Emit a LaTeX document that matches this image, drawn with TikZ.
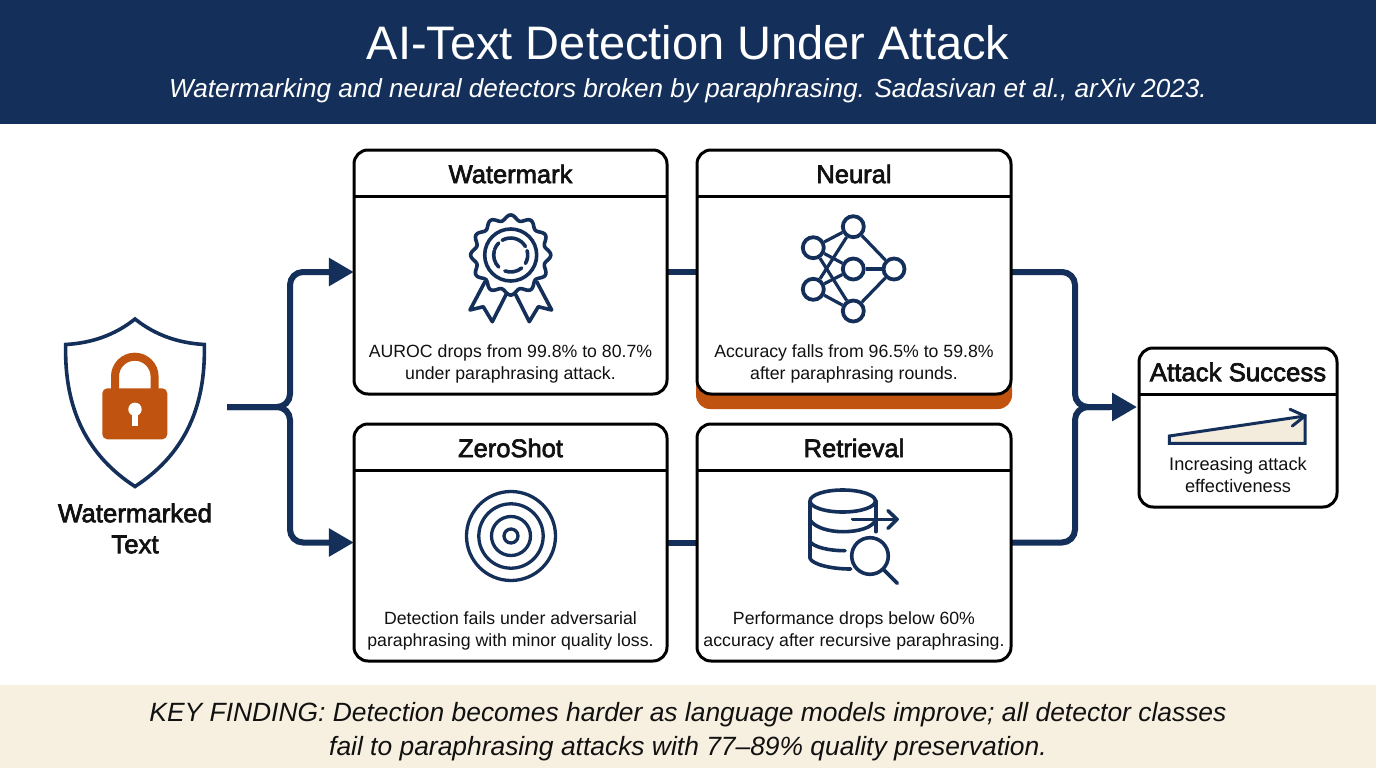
\documentclass[tikz,border=0pt]{standalone}
\usepackage{fontspec}
\setmainfont{Liberation Sans}
\newfontfamily\medfont[FakeBold=2.6]{Liberation Sans}
\usetikzlibrary{arrows.meta}
\definecolor{navy}{HTML}{14305A}
\definecolor{rust}{HTML}{C0530F}
\definecolor{cream}{HTML}{F7F0E0}
\definecolor{wedge}{HTML}{F3EBDC}
\definecolor{ink}{HTML}{111111}
\tikzset{
  x=1pt,y=-1pt,
  cardbox/.style={draw=black,line width=3pt,fill=white,rounded corners=14pt,inner sep=0pt,rectangle},
  cardrule/.style={draw=black,line width=3pt},
  cardtitle/.style={font=\medfont\fontsize{25.5}{30}\selectfont,text=ink,inner sep=0pt},
  carddesc/.style={font=\fontsize{17.7}{22}\selectfont,text=ink,align=center,inner sep=0pt},
  anchorbox/.style={rectangle,inner sep=0pt},
  flow/.style={draw=navy,line width=6pt,rounded corners=13pt},
  flowtip/.style={flow,-{Triangle[length=25pt,width=27pt]}},
  icon/.style={draw=navy,line width=3.6pt,line cap=round,line join=round},
  ring/.style={draw=navy,line width=3.3pt},
  netnode/.style={circle,draw=navy,line width=3.8pt,fill=white,minimum size=21pt,inner sep=0pt},
}
\begin{document}
\begin{tikzpicture}
\useasboundingbox (0,0) rectangle (1376,768);
\fill[white] (0,0) rectangle (1376,768);
% bands
\fill[navy] (0,0) rectangle (1376,124);
\fill[cream] (0,685) rectangle (1376,768);
\node[text=white,inner sep=0pt,font=\fontsize{47}{56}\selectfont] (title) at (688,43) {AI-Text Detection Under Attack};
\node[text=white,inner sep=0pt,font=\itshape\fontsize{26.1}{32}\selectfont] (subtitle) at (688,91) {Watermarking and neural detectors broken by paraphrasing. Sadasivan et al., arXiv 2023.};
\node[text=ink,inner sep=0pt,align=center,font=\itshape\fontsize{26.4}{34}\selectfont] (finding) at (688,732) {KEY FINDING: Detection becomes harder as language models improve; all detector classes\\fail to paraphrasing attacks with 77--89\% quality preservation.};
% orange accent under Neural
\fill[rust] (696,370) rectangle (1012,395);
\fill[rust,rounded corners=14pt] (696,375) rectangle (1012,409);
% anchors for connectors
\coordinate (src) at (227,407);
\coordinate (hub) at (1137,407);
\node[anchorbox,minimum width=313pt,minimum height=244pt] (wm) at (510.5,272) {};
\node[anchorbox,minimum width=314pt,minimum height=244pt] (nn) at (854,272) {};
\node[anchorbox,minimum width=313pt,minimum height=237pt] (zs) at (510.5,542.5) {};
\node[anchorbox,minimum width=314pt,minimum height=237pt] (rt) at (854,542.5) {};
% connectors
\draw[flow] (src) -- (290,407) -- (290,272) -- (330,272);
\draw[flow] (src) -- (290,407) -- (290,542.5) -- (330,542.5);
\draw[flowtip] (330,272) -- (wm.west);
\draw[flowtip] (330,542.5) -- (zs.west);
\draw[flow,rounded corners=0pt] (wm.east) -- (nn.west);
\draw[flow,rounded corners=0pt] (zs.east) -- (rt.west);
\draw[flow] (nn.east) -- (1075,272) -- (1075,407) -- (1110,407);
\draw[flow] (rt.east) -- (1075,542.5) -- (1075,407) -- (1110,407);
\draw[flowtip] (1110,407) -- (hub);
% cards
\foreach \lx/\rx/\ty/\by/\ry in {354/667/150/394/196, 697/1011/150/394/196, 354/667/424/661/470, 697/1011/424/661/470, 1139/1337/348/507/394}{
  \draw[cardbox] (\lx,\ty) rectangle (\rx,\by);
  \draw[cardrule] (\lx,\ry) -- (\rx,\ry);
}
% card text
\node[cardtitle] (wmt) at (510.5,174) {Watermark};
\node[cardtitle] (nnt) at (854,174) {Neural};
\node[cardtitle] (zst) at (510.5,448) {ZeroShot};
\node[cardtitle] (rtt) at (854,448) {Retrieval};
\node[cardtitle,font=\medfont\fontsize{25.8}{32}\selectfont] (ast) at (1238,372) {Attack Success};
\node[carddesc] (wmd) at (510.5,364) {AUROC drops from 99.8\% to 80.7\%\\under paraphrasing attack.};
\node[carddesc] (nnd) at (854,364) {Accuracy falls from 96.5\% to 59.8\%\\after paraphrasing rounds.};
\node[carddesc] (zsd) at (510.5,631) {Detection fails under adversarial\\paraphrasing with minor quality loss.};
\node[carddesc] (rtd) at (854,631) {Performance drops below 60\%\\accuracy after recursive paraphrasing.};
\node[carddesc,font=\fontsize{18.2}{22}\selectfont] (asd) at (1238,475) {Increasing attack\\effectiveness};
\node[cardtitle,align=center,font=\medfont\fontsize{25.8}{31}\selectfont] (srclabel) at (135,528.5) {Watermarked\\Text};
% shield
\draw[navy,line width=3.6pt,line join=miter,fill=white] (135,319) .. controls (115,335) and (92,343) .. (65.7,344.5) .. controls (64,410) and (88,456) .. (135,486.5) .. controls (182,456) and (206,410) .. (204.3,344.5) .. controls (178,343) and (155,335) .. (135,319) -- cycle;
\draw[rust,line width=8pt] (115,392) -- (115,376.5) arc[start angle=180,end angle=0,radius=19.8pt] -- (154.6,392);
\fill[rust,rounded corners=5pt] (102.3,388.3) rectangle (167.3,439.3);
\fill[white] (135,409.3) circle[radius=6.7pt];
\fill[white] (131.7,410) rectangle (138.3,425.7);
% rosette
\draw[icon] (485,281.7) -- (470,310) -- (483.3,306.7) -- (492.3,321.7) -- (506.7,293.3);
\draw[icon] (536.7,281.7) -- (551.7,310) -- (538.3,306.7) -- (529.3,321.7) -- (515,293.3);
\draw[icon,fill=white,smooth,samples=144,domain=0:360] plot ({510.7+(37.5+2.6*cos(12*\x))*sin(\x)},{255-(37.5+2.6*cos(12*\x))*cos(\x)}) -- cycle;
\draw[icon] (510.7,255) circle[radius=26pt];
\draw[icon] (510.7,255) ++(120:17pt) arc[start angle=120,end angle=30,radius=17pt];
\draw[icon] (510.7,255) ++(15:17pt) arc[start angle=15,end angle=-30,radius=17pt];
\draw[icon] (510.7,255) ++(-50:17pt) arc[start angle=-50,end angle=-110,radius=17pt];
\draw[icon] (510.7,255) ++(-135:17pt) arc[start angle=-135,end angle=-195,radius=17pt];
\draw[icon] (510.7,255) ++(-200:17pt) arc[start angle=-200,end angle=-225,radius=17pt];
% neural net
\node[netnode] (i1) at (813.3,247.7) {};
\node[netnode] (i2) at (813.3,289.3) {};
\node[netnode] (h1) at (853.3,226.7) {};
\node[netnode] (h2) at (853.3,269) {};
\node[netnode] (h3) at (853.3,311) {};
\node[netnode] (o1) at (894,269) {};
\foreach \a in {i1,i2}\foreach \b in {h1,h2,h3}{\draw[navy,line width=3.2pt] (\a) -- (\b);}
\foreach \b in {h1,h2,h3}{\draw[navy,line width=3.2pt] (\b) -- (o1);}
% target
\draw[ring] (511,536) circle[radius=44.5pt];
\draw[ring] (511,536) circle[radius=32.2pt];
\draw[ring] (511,536) circle[radius=19.5pt];
\draw[ring] (511,536) circle[radius=7pt];
% database
\draw[icon] (842.7,501) ellipse[x radius=32.7pt,y radius=11pt];
\draw[icon] (875.7,501) -- (875.7,531.7);
\draw[icon] (810,501) -- (810,558.3) .. controls (812,564) and (830,569) .. (850.7,569);
\draw[icon] (810,520) .. controls (815,528) and (830,531.7) .. (843,531.7) .. controls (858,531.7) and (872,528) .. (875.7,520);
\draw[icon] (810,541.7) .. controls (814,547) and (828,550.7) .. (845,550.7);
\draw[icon] (852.7,519.3) -- (897,519.3);
\draw[icon] (888,510.7) -- (897,519.3) -- (888,528.3);
\draw[icon,fill=white] (870,556) circle[radius=18.3pt];
\draw[icon] (883.3,569.3) -- (897.3,583.3);
% attack ramp
\draw[navy,line width=3pt,fill=wedge,line join=miter] (1169.3,436) -- (1305,416) -- (1305,443.3) -- (1169.3,443.3) -- cycle;
\draw[navy,line width=3pt,line cap=round,line join=round] (1290,409.3) -- (1305,416) -- (1292.3,426);
\end{tikzpicture}
\end{document}
